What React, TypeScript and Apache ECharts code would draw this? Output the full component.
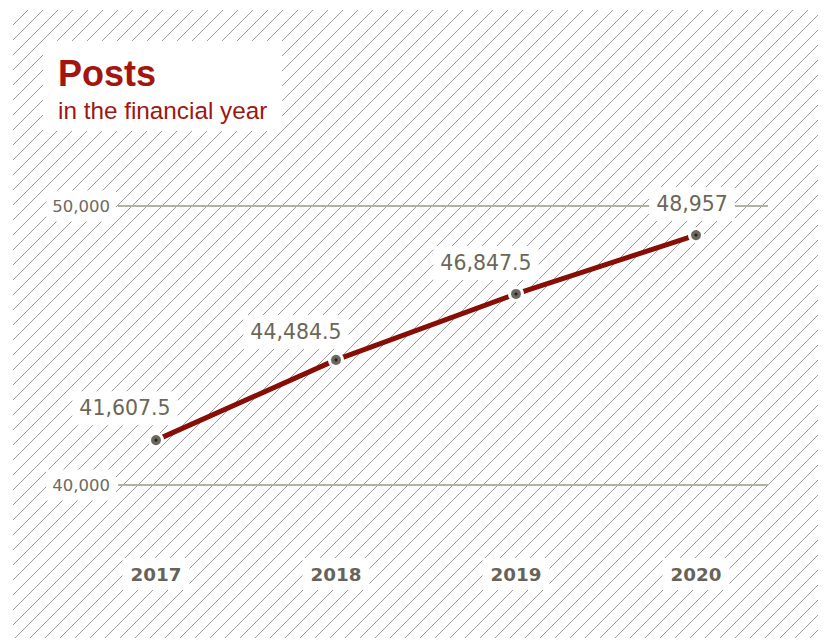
import React, { useEffect, useRef } from "react";
import * as echarts from "echarts";

const years: number[] = [2017, 2018, 2019, 2020];
const posts: number[] = [41607.5, 44484.5, 46847.5, 48957];
const yTicks: number[] = [40000, 50000];
const titleText = "Posts";
const subtitleText = "in the financial year";
// label offsets (style): text placed up-left of each point
const labelOffsets: [number, number][] = [
  [-31, -32],
  [-40, -28],
  [-30, -31],
  [-4, -31],
];

const fmt = (v: number) =>
  v.toLocaleString("en-US", { maximumFractionDigits: 1 });

const hatchTile =
  "url(\"data:image/svg+xml;utf8," +
  encodeURIComponent(
    "<svg xmlns='http://www.w3.org/2000/svg' width='15' height='15'><path d='M-1,1 L1,-1 M0,15 L15,0 M14,16 L16,14' stroke='#9c9c9c' stroke-width='1'/></svg>"
  ) +
  "\")";

export default function App() {
  const ref = useRef<HTMLDivElement>(null);
  useEffect(() => {
    if (!ref.current) return;
    const chart = echarts.init(ref.current, undefined, { renderer: "svg" });
    const lineData = years.map((y, i) => ({
      value: [y, posts[i]],
      label: { offset: labelOffsets[i] },
    }));
    chart.setOption({
      animation: false,
      backgroundColor: "transparent",
      grid: { left: 118, right: 59, top: 206, bottom: 159 },
      xAxis: {
        type: "value",
        min: 2016.789,
        max: 2020.4,
        axisLine: { show: false },
        axisTick: { show: false },
        splitLine: { show: false },
        axisLabel: {
          customValues: years,
          formatter: (v: number) => String(v),
          margin: 73,
          fontFamily: "DejaVu Sans",
          fontWeight: "bold",
          fontSize: 18.3,
          color: "#67635a",
          backgroundColor: "#ffffff",
          padding: [7, 8],
          lineHeight: 18,
        },
      },
      yAxis: {
        type: "value",
        min: yTicks[0],
        max: yTicks[yTicks.length - 1],
        interval: yTicks[1] - yTicks[0],
        axisLine: { show: false },
        axisTick: { show: false },
        splitLine: { show: true, lineStyle: { color: "#b4b1a5", width: 2 } },
        axisLabel: {
          formatter: (v: number) => fmt(v),
          margin: 2,
          fontFamily: "DejaVu Sans",
          fontSize: 16.5,
          color: "#6e6a5e",
          backgroundColor: "#ffffff",
          padding: [7, 6],
        },
      },
      graphic: [
        {
          type: "rect",
          shape: { x: 43, y: 41, width: 239, height: 90 },
          style: { fill: "#ffffff" },
          z: 0,
        },
        {
          type: "text",
          x: 58,
          y: 73,
          style: {
            text: titleText,
            fontFamily: "Liberation Sans",
            fontWeight: "bold",
            fontSize: 36,
            fill: "#a5150f",
            verticalAlign: "middle",
          },
        },
        {
          type: "text",
          x: 58,
          y: 110,
          style: {
            text: subtitleText,
            fontFamily: "Liberation Sans",
            fontSize: 24.3,
            fill: "#9e1711",
            verticalAlign: "middle",
          },
        },
      ],
      series: [
        {
          type: "line",
          data: lineData,
          symbol: "circle",
          symbolSize: 13,
          lineStyle: { color: "#870d05", width: 5 },
          itemStyle: { color: "#6b675c", borderColor: "#ffffff", borderWidth: 3 },
          label: {
            show: true,
            position: "inside",
            formatter: (p: any) => fmt(p.value[1]),
            fontFamily: "DejaVu Sans",
            fontSize: 20.5,
            color: "#6b6759",
            backgroundColor: "#ffffff",
            padding: [6, 7],
            lineHeight: 22,
          },
          z: 3,
        },
        {
          type: "scatter",
          data: years.map((y, i) => [y, posts[i]]),
          symbol: "circle",
          symbolSize: 3,
          itemStyle: { color: "#111111" },
          silent: true,
          z: 4,
        },
      ],
    });
    return () => chart.dispose();
  }, []);

  return (
    <div style={{ position: "absolute", left: 0, top: 0, width: 827, height: 644, background: "#ffffff" }}>
      <div
        style={{
          position: "absolute",
          left: 13,
          top: 10,
          width: 805,
          height: 628,
          backgroundImage: hatchTile,
          backgroundRepeat: "repeat",
        }}
      />
      <div ref={ref} style={{ position: "absolute", left: 0, top: 0, width: 827, height: 644 }} />
    </div>
  );
}
